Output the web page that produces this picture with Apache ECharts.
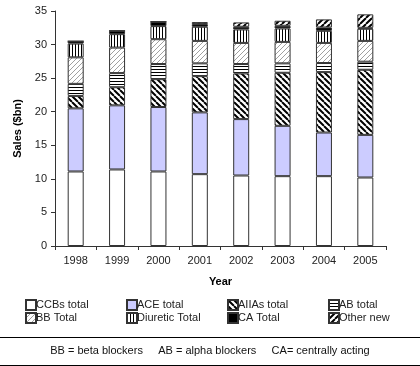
<!DOCTYPE html>
<html><head><meta charset="utf-8">
<script src="https://cdn.jsdelivr.net/npm/echarts@6/dist/echarts.min.js"></script>
<style>html,body{margin:0;padding:0;background:#fff}#c{width:420px;height:366px}</style>
</head><body><div id="c"></div>
<script>
var years = ['1998','1999','2000','2001','2002','2003','2004','2005'];
var ccbs     = [11.1, 11.4, 11.1, 10.7, 10.5, 10.4, 10.4, 10.2];
var ace      = [9.4, 9.55, 9.6, 9.2, 8.4, 7.5, 6.5, 6.35];
var aiias    = [1.85, 2.7, 4.15, 5.4, 6.8, 7.9, 9.0, 9.7];
var ab       = [1.8, 2.1, 2.25, 1.9, 1.4, 1.4, 1.35, 1.2];
var bb       = [3.95, 3.8, 3.7, 3.35, 3.15, 3.2, 3.0, 3.1];
var diuretic = [2.05, 2.0, 1.95, 2.1, 2.0, 2.0, 1.8, 1.8];
var ca       = [0.35, 0.5, 0.65, 0.4, 0.4, 0.4, 0.5, 0.15];
var otherNew = [0, 0, 0, 0.3, 0.65, 0.75, 1.2, 2.0];
var yTicks = [0, 5, 10, 15, 20, 25, 30, 35];

function pat(size, draw) {
  var c = document.createElement('canvas');
  c.width = size; c.height = size;
  var g = c.getContext('2d');
  g.fillStyle = '#fff'; g.fillRect(0, 0, size, size);
  draw(g, size);
  return {image: c, repeat: 'repeat'};
}
var pAIIA = pat(6, function (g, s) {
  g.strokeStyle = '#000'; g.lineWidth = 2;
  g.beginPath();
  for (var k = -1; k <= 1; k++) { g.moveTo(k * s, 0); g.lineTo(k * s + s, s); }
  g.stroke();
});
var pOther = pat(6, function (g, s) {
  g.strokeStyle = '#000'; g.lineWidth = 2;
  g.beginPath();
  for (var k = -1; k <= 1; k++) { g.moveTo(k * s, s); g.lineTo(k * s + s, 0); }
  g.stroke();
});
var pBB = pat(5, function (g, s) {
  g.strokeStyle = '#777'; g.lineWidth = 0.7;
  g.beginPath();
  for (var k = -1; k <= 1; k++) { g.moveTo(k * s, s); g.lineTo(k * s + s, 0); }
  g.stroke();
});
var pAB = pat(3, function (g, s) {
  g.fillStyle = '#000'; g.fillRect(0, 0, s, 1);
});
var pDiu = pat(3, function (g, s) {
  g.fillStyle = '#000'; g.fillRect(0, 0, 1, s);
});

var defs = [
  ['CCBs total', ccbs, '#ffffff'],
  ['ACE total', ace, '#ccccff'],
  ['AIIAs total', aiias, pAIIA],
  ['AB total', ab, pAB],
  ['BB Total', bb, pBB],
  ['Diuretic Total', diuretic, pDiu],
  ['CA Total', ca, '#000000'],
  ['Other new', otherNew, pOther]
];
var series = defs.map(function (d) {
  return {
    name: d[0], type: 'bar', stack: 'total', data: d[1], barWidth: 16,
    itemStyle: {color: d[2], borderColor: '#333', borderWidth: 1},
    emphasis: {disabled: true}, animation: false
  };
});
var cols = [[ 'CCBs total', 'BB Total'], ['ACE total', 'Diuretic Total'], ['AIIAs total', 'CA Total'], ['AB total', 'Other new']];
var lefts = [25, 126, 227, 328];
var legends = cols.map(function (c, i) {
  return {
    data: c, orient: 'vertical', left: lefts[i], top: 299, itemWidth: 10, itemHeight: 10,
    itemGap: 1, icon: 'rect', selectedMode: false,
    textStyle: {fontFamily: 'Liberation Sans', fontSize: 11, color: '#222', padding: [0, 0, 0, -5], lineHeight: 11},
    padding: 0
  };
});
var font = 'Liberation Sans';
var chart = echarts.init(document.getElementById('c'), null, {renderer: 'canvas'});
chart.setOption({
  animation: false,
  backgroundColor: '#fff',
  grid: {left: 55, right: 34, top: 11, bottom: 120},
  legend: legends,
  xAxis: {
    type: 'category', data: years,
    name: 'Year', nameLocation: 'middle', nameGap: 30,
    nameTextStyle: {fontFamily: font, fontSize: 11, fontWeight: 'bold', color: '#000'},
    axisLine: {lineStyle: {color: '#333', width: 1}},
    axisTick: {show: true, alignWithLabel: false, length: 4, lineStyle: {color: '#333'}},
    axisLabel: {fontFamily: font, fontSize: 11, color: '#222', margin: 9}
  },
  yAxis: {
    type: 'value', min: yTicks[0], max: yTicks[yTicks.length - 1], interval: 5,
    name: 'Sales ($bn)', nameLocation: 'middle', nameGap: 29, nameRotate: 90,
    nameTextStyle: {fontFamily: font, fontSize: 11, fontWeight: 'bold', color: '#000'},
    axisLine: {show: true, lineStyle: {color: '#333', width: 1}},
    axisTick: {show: true, length: 4, lineStyle: {color: '#333'}},
    splitLine: {show: false},
    axisLabel: {fontFamily: font, fontSize: 11, color: '#222', margin: 8}
  },
  graphic: [
    {type: 'line', shape: {x1: 0, y1: 337.5, x2: 420, y2: 337.5}, style: {stroke: '#000', lineWidth: 1}},
    {type: 'line', shape: {x1: 0, y1: 365.5, x2: 420, y2: 365.5}, style: {stroke: '#000', lineWidth: 1}},
    {type: 'text', left: 'center', top: 345, style: {text: 'BB = beta blockers     AB = alpha blockers     CA= centrally acting', fontFamily: font, fontSize: 11, fill: '#111'}}
  ],
  series: series
});
</script></body></html>
